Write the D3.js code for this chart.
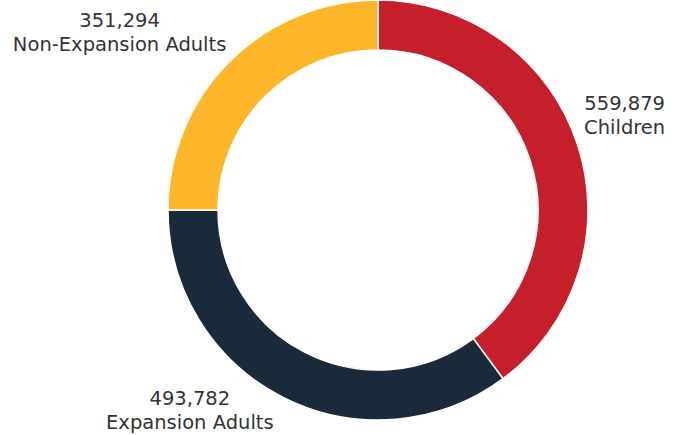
<!DOCTYPE html>
<html>
<head>
<meta charset="utf-8">
<script src="https://cdn.jsdelivr.net/npm/d3@7"></script>
<style>
  html, body { margin: 0; padding: 0; background: #fff; }
  svg { display: block; }
  .lbl { font-family: "DejaVu Sans", sans-serif; font-size: 19.5px; fill: #333; }
</style>
</head>
<body>
<svg id="chart" width="678" height="435"></svg>
<script>
// Enrollment by group
const categories = ["Children", "Expansion Adults", "Non-Expansion Adults"];
const values = [559879, 493782, 351294];
const colors = ["#c41f2b", "#1b2a3a", "#fdb52a"];

const width = 678, height = 435;
const cx = 378, cy = 210;
const outerR = 210, innerR = 160;

const svg = d3.select("#chart");
const g = svg.append("g").attr("transform", `translate(${cx},${cy})`);

const pie = d3.pie().sort(null).value(d => d.value).startAngle(0).endAngle(2 * Math.PI);
const data = pie(categories.map((c, i) => ({ name: c, value: values[i], color: colors[i] })));

const arc = d3.arc().innerRadius(innerR).outerRadius(outerR);

g.selectAll("path.slice")
  .data(data)
  .join("path")
  .attr("class", "slice")
  .attr("d", arc)
  .attr("fill", d => d.data.color)
  .attr("stroke", "#fff")
  .attr("stroke-width", 1.5);

// Labels sit outside the ring, placed from each slice's mid-angle
const labelArc = d3.arc().innerRadius(265).outerRadius(265);
const nudges = { "Children": [-5, -13], "Expansion Adults": [-69, -38], "Non-Expansion Adults": [-71, 8] };
const fmt = d3.format(",");

const labels = g.selectAll("g.lbl-g")
  .data(data)
  .join("g")
  .attr("class", "lbl-g")
  .attr("transform", d => {
    const [x, y] = labelArc.centroid(d);
    const n = nudges[d.data.name];
    return `translate(${x + n[0]},${y + n[1]})`;
  });

labels.append("text")
  .attr("class", "lbl")
  .attr("text-anchor", "middle")
  .attr("y", -4)
  .text(d => fmt(d.data.value));

labels.append("text")
  .attr("class", "lbl")
  .attr("text-anchor", "middle")
  .attr("y", 20)
  .text(d => d.data.name);
</script>
</body>
</html>
